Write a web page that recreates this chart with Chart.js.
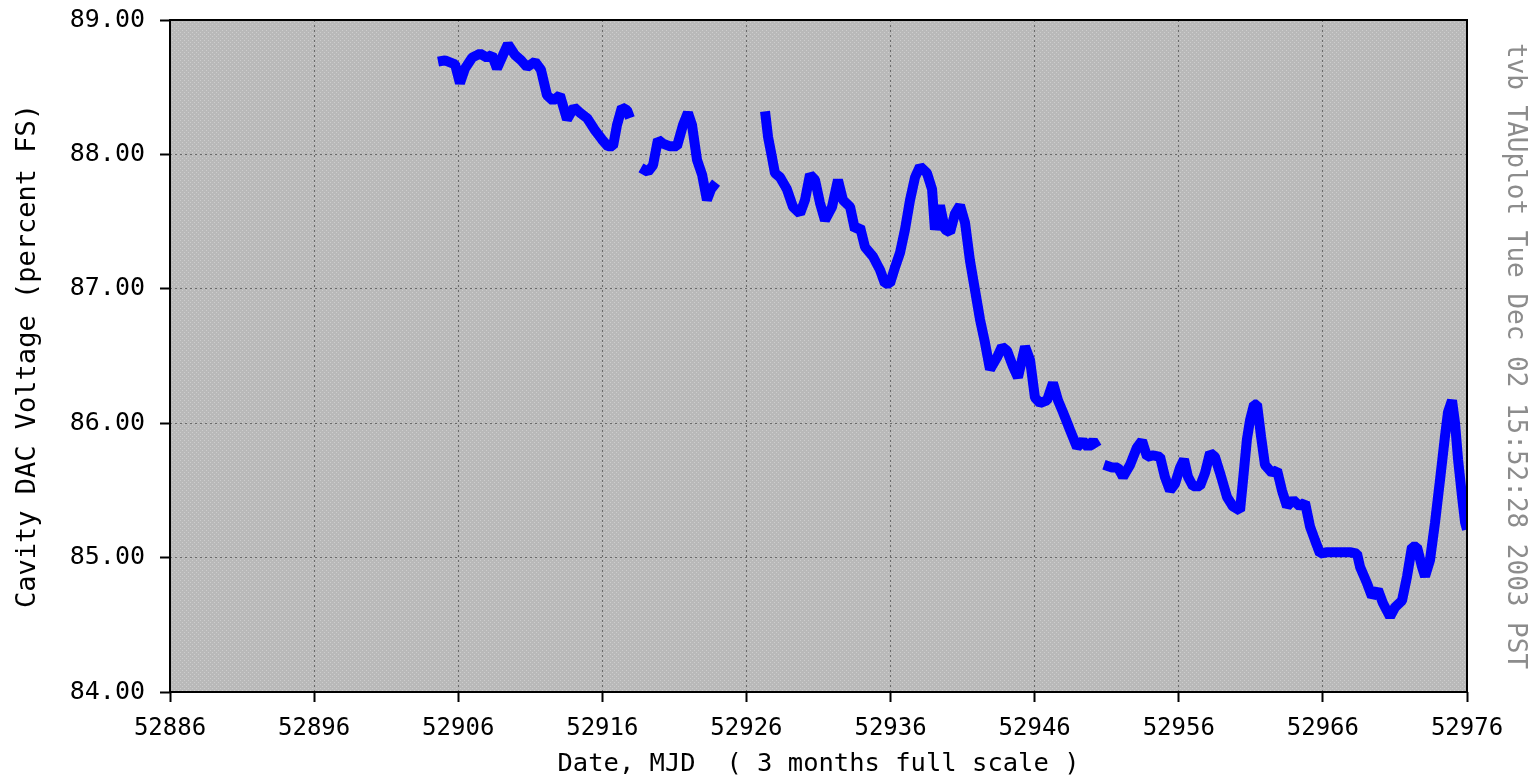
<!DOCTYPE html>
<html>
<head>
<meta charset="utf-8">
<title>Cavity DAC Voltage</title>
<script src="https://cdn.jsdelivr.net/npm/chart.js@4/dist/chart.umd.min.js"></script>
<style>
	html, body { margin: 0; padding: 0; background: #fff; }
	#box { width: 1530px; height: 780px; }
</style>
</head>
<body>
<div id="box"><canvas id="dac_chart"></canvas></div>
<script>
// Valeurs (null = trou dans la courbe)
var mjd = [
	52904.60, 52905.08, 52905.78, 52906.12, 52906.47, 52906.96, 52907.51, 52908.00, 52908.34, 52908.69,
	52909.11, 52909.45, 52909.94, 52910.36, 52910.77, 52911.33, 52911.74, 52912.16, 52912.58, 52913.06,
	52913.55, 52914.03, 52914.45, 52914.94, 52915.49, 52915.98, 52916.39, 52916.74, 52917.02, 52917.36,
	52917.71, 52917.92, 52918.30,
	52918.68, 52919.17, 52919.52, 52919.86, 52920.21, 52920.70, 52921.18, 52921.60, 52921.94, 52922.22,
	52922.57, 52922.92, 52923.26, 52923.54, 52923.89, 52925.50,
	52927.29, 52927.50, 52927.77, 52927.98, 52928.33, 52928.81, 52929.23, 52929.72, 52930.06, 52930.41,
	52930.76, 52931.10, 52931.45, 52931.94, 52932.35, 52932.70, 52933.19, 52933.53, 52933.88, 52934.23,
	52934.78, 52935.27, 52935.61, 52935.96, 52936.31, 52936.66, 52937.00, 52937.35, 52937.70, 52938.04,
	52938.53, 52938.88, 52939.08, 52939.43, 52939.78, 52940.13, 52940.47, 52940.82, 52941.17, 52941.51,
	52941.86, 52942.21, 52942.55, 52942.90, 52943.39, 52943.73, 52944.08, 52944.50, 52944.84, 52945.33,
	52945.68, 52946.02, 52946.37, 52946.86, 52947.27, 52947.62, 52947.97, 52948.45, 52948.94, 52949.35,
	52949.70, 52950.05, 52950.33, 52950.55,
	52950.81, 52951.37, 52951.78, 52952.13, 52952.62, 52953.10, 52953.45, 52953.80, 52954.21, 52954.70,
	52955.04, 52955.39, 52955.74, 52956.09, 52956.36, 52956.64, 52956.99, 52957.47, 52957.82, 52958.17,
	52958.51, 52958.86, 52959.35, 52959.76, 52960.25, 52960.46, 52960.73, 52960.94, 52961.22, 52961.43,
	52961.71, 52961.98, 52962.47, 52962.82, 52963.16, 52963.51, 52963.93, 52964.41, 52964.76, 52965.11,
	52965.45, 52965.80, 52966.29, 52966.98, 52967.88, 52968.37, 52968.58, 52969.06, 52969.41, 52969.82,
	52970.17, 52970.66, 52971.00, 52971.49, 52971.84, 52972.18, 52972.53, 52972.88, 52973.09, 52973.43,
	52973.78, 52974.13, 52974.47, 52974.68, 52974.96, 52975.17, 52975.38, 52975.66, 52975.87, 52976.00
];
var voltage = [
	88.69, 88.70, 88.67, 88.53, 88.64, 88.72, 88.75, 88.72, 88.74, 88.64,
	88.74, 88.82, 88.74, 88.70, 88.65, 88.69, 88.63, 88.44, 88.40, 88.44,
	88.26, 88.35, 88.31, 88.27, 88.18, 88.11, 88.06, 88.06, 88.22, 88.35,
	88.33, 88.27, null,
	87.90, 87.87, 87.92, 88.11, 88.08, 88.06, 88.06, 88.22, 88.31, 88.22,
	87.96, 87.85, 87.66, 87.74, 87.79, null,
	88.32, 88.13, 87.98, 87.86, 87.83, 87.74, 87.61, 87.56, 87.66, 87.85,
	87.81, 87.64, 87.51, 87.61, 87.81, 87.66, 87.61, 87.44, 87.46, 87.31,
	87.24, 87.14, 87.04, 87.04, 87.16, 87.27, 87.44, 87.66, 87.83, 87.91,
	87.86, 87.74, 87.44, 87.62, 87.44, 87.42, 87.56, 87.62, 87.49, 87.21,
	86.99, 86.77, 86.60, 86.40, 86.49, 86.57, 86.54, 86.42, 86.34, 86.57,
	86.47, 86.19, 86.15, 86.17, 86.30, 86.17, 86.08, 85.95, 85.82, 85.87,
	85.82, 85.87, 85.82, null,
	85.69, 85.67, 85.67, 85.60, 85.69, 85.82, 85.87, 85.75, 85.76, 85.75,
	85.60, 85.50, 85.55, 85.67, 85.73, 85.60, 85.53, 85.53, 85.63, 85.78,
	85.75, 85.63, 85.45, 85.38, 85.35, 85.58, 85.88, 86.02, 86.14, 86.14,
	85.90, 85.69, 85.63, 85.65, 85.50, 85.38, 85.43, 85.38, 85.41, 85.23,
	85.13, 85.03, 85.04, 85.04, 85.04, 85.03, 84.93, 84.81, 84.71, 84.76,
	84.66, 84.56, 84.63, 84.68, 84.86, 85.08, 85.08, 84.93, 84.86, 84.98,
	85.26, 85.58, 85.90, 86.08, 86.17, 86.00, 85.73, 85.45, 85.26, 85.21
];

// Axes
var x_ticks = [52886, 52896, 52906, 52916, 52926, 52936, 52946, 52956, 52966, 52976];
var y_ticks = [84, 85, 86, 87, 88, 89];

var x_title = 'Date, MJD  ( 3 months full scale )';
var y_title = 'Cavity DAC Voltage (percent FS)';
var stamp = 'tvb TAUplot Tue Dec 02 15:52:28 2003 PST';

var points = mjd.map((m, i) => ({ x: m, y: voltage[i] }));

// Fond gris tramé de la zone de tracé
function grey_pattern() {
	var c = document.createElement('canvas');
	c.width = 4; c.height = 4;
	var g = c.getContext('2d');
	g.fillStyle = '#b9b9b9';
	g.fillRect(0, 0, 4, 4);
	g.fillStyle = '#cdcdcd';
	g.fillRect(0, 0, 1, 1);
	g.fillRect(2, 2, 1, 1);
	return g.createPattern(c, 'repeat');
}

var frame_plugin = {
	id: 'frame',
	beforeDraw(chart) {
		var a = chart.chartArea, ctx = chart.ctx;
		ctx.save();
		ctx.fillStyle = grey_pattern();
		ctx.fillRect(a.left, a.top, a.right - a.left, a.bottom - a.top);
		ctx.restore();
	},
	afterDraw(chart) {
		var a = chart.chartArea, ctx = chart.ctx;
		ctx.save();
		ctx.strokeStyle = '#000';
		ctx.lineWidth = 2;
		ctx.strokeRect(a.left, a.top, a.right - a.left, a.bottom - a.top);
		ctx.restore();
	}
};

var mono = 'DejaVu Sans Mono';
var grid_style = {
	color: '#6a6a6a',
	lineWidth: 1,
	tickLength: 10,
	tickColor: '#000',
	tickWidth: 2,
	tickBorderDash: []
};
var dotted = { display: false, dash: [2, 3] };

var dac_ctx = document.getElementById('dac_chart');
var dac_chart = new Chart(dac_ctx, {
	type: 'line',
	data: { datasets: [{
		data: points,
		borderColor: '#0000ff',
		borderWidth: 10,
		borderJoinStyle: 'bevel',
		pointRadius: 0,
		tension: 0,
		spanGaps: false,
		fill: false
	}]},
	options: {
		responsive: true,
		maintainAspectRatio: false,
		animation: false,
		events: [],
		layout: { padding: { top: 20, left: 0, right: 0, bottom: 0 } },
		plugins: { legend: { display: false }, tooltip: { enabled: false } },
		scales: {
			x: {
				type: 'linear',
				min: 52886, max: 52976,
				afterBuildTicks: s => { s.ticks = x_ticks.map(v => ({ value: v })); },
				afterFit: s => { s.height = 88; s.paddingLeft = 0; s.paddingRight = 0; },
				grid: grid_style,
				border: dotted,
				ticks: { color: '#000', font: { family: mono, size: 24 }, padding: 12, maxRotation: 0, callback: v => String(v) },
				title: { display: true, text: x_title, color: '#000', font: { family: mono, size: 25.5 }, padding: { top: 0, bottom: 0 } }
			},
			y: {
				min: 84, max: 89,
				afterBuildTicks: s => { s.ticks = y_ticks.map(v => ({ value: v })); },
				afterFit: s => { s.width = 170; s.paddingTop = 0; s.paddingBottom = 0; },
				grid: grid_style,
				border: dotted,
				ticks: { color: '#000', font: { family: mono, size: 25 }, padding: 15, callback: v => v.toFixed(2) },
				title: { display: true, text: y_title, color: '#000', font: { family: mono, size: 27 }, padding: { top: 12, bottom: 0 } }
			},
			stamp: {
				position: 'right',
				min: 0, max: 1,
				afterFit: s => { s.width = 63; s.paddingTop = 0; s.paddingBottom = 0; },
				grid: { display: false },
				border: { display: false },
				ticks: { display: false },
				title: { display: true, text: stamp, color: '#8c8c8c', font: { family: mono, size: 26 }, padding: { top: 0, bottom: 0 } }
			}
		}
	},
	plugins: [frame_plugin]
});
</script>
</body>
</html>
